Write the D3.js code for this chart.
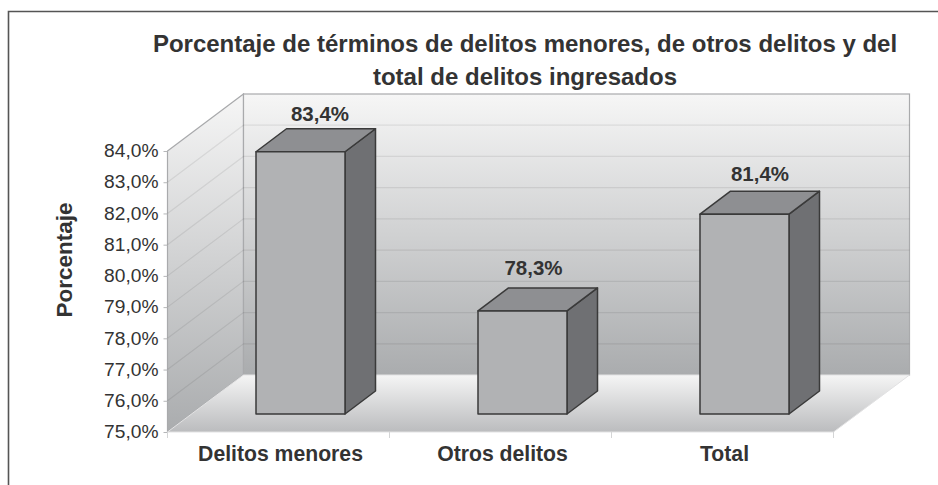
<!DOCTYPE html>
<html>
<head>
<meta charset="utf-8">
<script src="https://cdn.jsdelivr.net/npm/d3@7/dist/d3.min.js"></script>
<style>
	html, body { margin: 0; padding: 0; background: #fff; }
	svg { display: block; }
	text { font-family: "Liberation Sans", Arial, sans-serif; fill: #333; }
	.domain { display: none; }
</style>
</head>
<body>
<svg id="chart"></svg>
<script>
const categories = ['Delitos menores', 'Otros delitos', 'Total'];
const values = [83.4, 78.3, 81.4];
const valueLabels = ['83,4%', '78,3%', '81,4%'];
const tickValues = [75, 76, 77, 78, 79, 80, 81, 82, 83, 84];
const titleLines = [
	'Porcentaje de términos de delitos menores, de otros delitos y del',
	'total de delitos ingresados'
];

const width = 938;
const height = 485;

// front plane of the fake 3d box
const plotLeft = 167.5, plotRight = 833.5, plotTop = 151, plotBottom = 432;
const wallDx = 76, wallDy = -57;
// bars sit a little way into the box
const barShiftX = 22, barShiftY = -18;
const barDx = 30.5, barDy = -23;
const labelDx = [19.5, 11, 15.5];
const labelDy = [-31, -36, -33];

const svg = d3.select('#chart').attr('width', width).attr('height', height);

const x = d3.scaleBand().domain(categories).range([plotLeft, plotRight]);
const y = d3.scaleLinear().domain([75, 84]).range([plotBottom, plotTop]);
const barWidth = 89;

const poly = pts => pts.map(p => p.join(',')).join(' ');

const defs = svg.append('defs');
const gradient = (id, stops) => {
	const g = defs.append('linearGradient').attr('id', id)
		.attr('x1', 0).attr('y1', 0).attr('x2', 0).attr('y2', 1);
	stops.forEach(s => g.append('stop').attr('offset', s[0]).attr('stop-color', s[1]));
};
gradient('wall-grad', [[0, '#f6f6f6'], [1, '#aaacae']]);
gradient('floor-grad', [[0, '#f5f5f5'], [1, '#bbbcbe']]);

// frame, only top and left show in the picture
svg.append('path')
	.attr('d', `M8.5,485V11.5H${width}`)
	.attr('fill', 'none')
	.attr('stroke', '#555')
	.attr('stroke-width', 1.6);

const chart = svg.append('g');

// walls and floor
chart.append('polygon')
	.attr('points', poly([[plotLeft, plotTop], [plotLeft + wallDx, plotTop + wallDy], [plotLeft + wallDx, plotBottom + wallDy], [plotLeft, plotBottom]]))
	.attr('fill', 'url(#wall-grad)')
	.attr('stroke', '#a9aaac')
	.attr('stroke-width', 1.2);
chart.append('rect')
	.attr('x', plotLeft + wallDx).attr('y', plotTop + wallDy)
	.attr('width', plotRight - plotLeft).attr('height', plotBottom - plotTop)
	.attr('fill', 'url(#wall-grad)')
	.attr('stroke', '#a9aaac')
	.attr('stroke-width', 1.2);
chart.append('polygon')
	.attr('points', poly([[plotLeft, plotBottom], [plotLeft + wallDx, plotBottom + wallDy], [plotRight + wallDx, plotBottom + wallDy], [plotRight, plotBottom]]))
	.attr('fill', 'url(#floor-grad)')
	.attr('stroke', '#e2e2e3')
	.attr('stroke-width', 1);

// gridlines run along the side wall and across the back
chart.append('g').selectAll('path').data(tickValues.slice(1, -1)).join('path')
	.attr('d', d => `M${plotLeft},${y(d)}L${plotLeft + wallDx},${y(d) + wallDy}H${plotRight + wallDx}`)
	.attr('fill', 'none')
	.attr('stroke', '#000')
	.attr('stroke-opacity', 0.08)
	.attr('stroke-width', 1.2);

// y axis
const yAxis = chart.append('g')
	.attr('transform', `translate(${plotLeft},0)`)
	.call(d3.axisLeft(y).tickValues(tickValues).tickSize(4).tickPadding(5)
		.tickFormat(d => d3.format('.1f')(d).replace('.', ',') + '%'));
yAxis.selectAll('text').style('font-size', '19.2px').attr('dy', '0.3em');
yAxis.selectAll('line').attr('stroke', '#b5b6b8');

// x axis, ticks mark the band edges
const xAxis = chart.append('g')
	.attr('transform', `translate(0,${plotBottom})`)
	.call(d3.axisBottom(x).tickSize(0).tickPadding(14));
xAxis.selectAll('text')
	.style('font-size', '21.2px')
	.style('font-weight', 'bold')
	.attr('dx', 2);
chart.append('g').selectAll('line')
	.data(d3.range(categories.length + 1))
	.join('line')
	.attr('x1', i => plotLeft + i * x.step()).attr('x2', i => plotLeft + i * x.step())
	.attr('y1', plotBottom).attr('y2', plotBottom + 6)
	.attr('stroke', '#d4d5d6');

const barData = categories.map((c, i) => ({ c, v: values[i], i }));

// bars: side, top, front
const bars = chart.append('g').selectAll('g')
	.data(barData)
	.join('g')
	.attr('stroke', '#3a3a3a')
	.attr('stroke-width', 1.5)
	.attr('stroke-linejoin', 'round');

const bx0 = d => x(d.c) + x.step() / 2 - barWidth / 2 + barShiftX;
const bx1 = d => bx0(d) + barWidth;
const byTop = d => y(d.v) + barShiftY;
const byBot = y(75) + barShiftY;

bars.append('polygon')
	.attr('fill', '#6f7073')
	.attr('points', d => poly([[bx1(d), byTop(d)], [bx1(d) + barDx, byTop(d) + barDy], [bx1(d) + barDx, byBot + barDy], [bx1(d), byBot]]));
bars.append('polygon')
	.attr('fill', '#8e8f92')
	.attr('points', d => poly([[bx0(d), byTop(d)], [bx0(d) + barDx, byTop(d) + barDy], [bx1(d) + barDx, byTop(d) + barDy], [bx1(d), byTop(d)]]));
bars.append('rect')
	.attr('fill', '#b1b2b4')
	.attr('x', bx0).attr('y', byTop)
	.attr('width', barWidth)
	.attr('height', d => byBot - byTop(d));

// value labels
chart.append('g').selectAll('text')
	.data(barData)
	.join('text')
	.attr('x', d => bx0(d) + barWidth / 2 + labelDx[d.i])
	.attr('y', d => byTop(d) + labelDy[d.i])
	.attr('text-anchor', 'middle')
	.style('font-size', '20.5px')
	.style('font-weight', 'bold')
	.text(d => valueLabels[d.i]);

// axis title
svg.append('text')
	.attr('transform', 'translate(72,260) rotate(-90)')
	.attr('text-anchor', 'middle')
	.style('font-size', '22.5px')
	.style('font-weight', 'bold')
	.text('Porcentaje');

// title
svg.append('g').selectAll('text').data(titleLines).join('text')
	.attr('x', 525)
	.attr('y', (d, i) => 52 + i * 33)
	.attr('text-anchor', 'middle')
	.style('font-size', '24px')
	.style('font-weight', 'bold')
	.text(d => d);
</script>
</body>
</html>
